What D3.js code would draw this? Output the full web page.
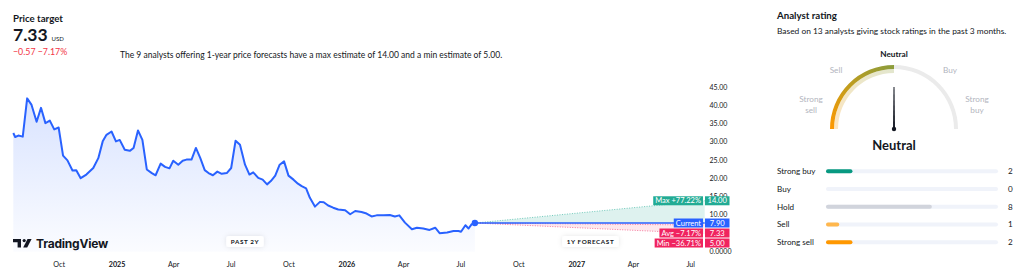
<!DOCTYPE html>
<html>
<head>
<meta charset="utf-8">
<script src="https://cdn.jsdelivr.net/npm/d3@7"></script>
<style>
  body { margin: 0; background: #fff; }
  svg { display: block; font-family: "Lato", "Liberation Sans", sans-serif; }
</style>
</head>
<body>
<div id="chart"></div>
<script>
// price history (past 2 years)
var priceDates = ["2024-07-21","2024-07-24","2024-07-29","2024-08-05","2024-08-12","2024-08-19","2024-08-27",
  "2024-09-03","2024-09-10","2024-09-17","2024-09-24","2024-10-01","2024-10-08","2024-10-15","2024-10-23",
  "2024-10-29","2024-11-05","2024-11-14","2024-11-25","2024-12-03","2024-12-10","2024-12-16","2024-12-24",
  "2024-12-31","2025-01-06","2025-01-14","2025-01-22","2025-01-28","2025-02-04","2025-02-11","2025-02-18",
  "2025-02-26","2025-03-04","2025-03-12","2025-03-19","2025-03-26","2025-04-01","2025-04-09","2025-04-16",
  "2025-04-22","2025-04-30","2025-05-07","2025-05-14","2025-05-21","2025-05-27","2025-06-03","2025-06-10",
  "2025-06-17","2025-06-25","2025-07-02","2025-07-09","2025-07-16","2025-07-24","2025-07-31","2025-08-06",
  "2025-08-14","2025-08-21","2025-08-28","2025-09-03","2025-09-10","2025-09-17","2025-09-24","2025-10-01",
  "2025-10-09","2025-10-16","2025-10-22","2025-10-29","2025-11-04","2025-11-12","2025-11-20","2025-11-26",
  "2025-12-03","2025-12-11","2025-12-19","2025-12-30","2026-01-07","2026-01-15","2026-01-25","2026-02-02",
  "2026-02-10","2026-02-18","2026-03-01","2026-03-11","2026-03-19","2026-03-26","2026-04-04","2026-04-15",
  "2026-04-23","2026-05-03","2026-05-13","2026-05-22","2026-05-29","2026-06-10","2026-06-20","2026-06-28",
  "2026-07-02","2026-07-09","2026-07-14","2026-07-19","2026-07-24"];
var priceValues = [32.6,31.5,31.9,31.6,42.1,40.3,35.7,39.5,35.3,36.0,33.6,34.1,26.4,25.1,22.3,
  22.4,20.2,21.2,23.0,25.7,30.3,32.1,33.0,30.3,30.7,28.0,27.7,28.5,33.3,30.7,22.6,
  21.6,21.0,24.2,23.3,22.9,25.0,23.9,25.0,25.3,25.3,28.5,25.7,22.4,21.6,21.0,22.0,
  21.4,21.6,23.0,30.5,29.4,23.9,21.2,21.8,20.3,19.8,18.5,19.4,20.9,23.9,24.8,20.9,
  19.8,18.7,18.0,17.4,14.8,12.4,13.7,13.6,12.7,12.1,11.6,11.4,10.3,11.2,10.9,10.5,
  9.7,10.0,10.0,10.1,9.7,10.0,8.0,6.2,6.6,6.4,6.0,6.6,5.1,5.3,5.7,5.7,
  5.5,7.3,6.4,7.6,7.9];

// 1 year targets
var currentPrice = 7.90;
var forecastEnd = "2027-07-24";
var targetNames = ["Max", "Avg", "Min"];
var targetValues = [14.00, 7.33, 5.00];
var targetPct = ["+77.22%", "\u22127.17%", "\u221236.71%"];
var analystCount = 9;

var yTicks = [0, 5, 10, 15, 20, 25, 30, 35, 40, 45];

// rating
var ratingNames = ["Strong buy", "Buy", "Hold", "Sell", "Strong sell"];
var ratingCounts = [2, 0, 8, 1, 2];
var ratingColors = ["#089981", "#089981", "#d1d4dc", "#ffb74d", "#ff9800"];
var gaugeNames = ["Strong sell", "Sell", "Neutral", "Buy", "Strong buy"];
var gaugeValue = 2;

var W = 1024, H = 277;
var parse = d3.timeParse("%Y-%m-%d");
var data = priceDates.map(function(d, i) { return { date: parse(d), value: priceValues[i] }; });
var last = data[data.length - 1];
var endDate = parse(forecastEnd);

var svg = d3.select("#chart").append("svg").attr("width", W).attr("height", H);
var defs = svg.append("defs");

var x = d3.scaleTime().domain([data[0].date, endDate]).range([13.3, 704.7]);
var y = d3.scaleLinear().domain([0, 45]).range([251.8, 87.8]);

// ---------- header ----------
svg.append("text").attr("x", 13).attr("y", 22).attr("font-size", 9.7).attr("font-weight", 700)
  .attr("fill", "#131722").text("Price target");
var big = svg.append("text").attr("x", 13).attr("y", 41).attr("fill", "#131722");
big.append("tspan").attr("font-size", 17.5).attr("font-weight", 700).text(targetValues[1].toFixed(2));
big.append("tspan").attr("font-size", 6).attr("dx", 4).text("USD");
svg.append("text").attr("x", 13).attr("y", 55).attr("font-size", 8.8).attr("fill", "#f23645")
  .text("\u2212" + (currentPrice - targetValues[1]).toFixed(2) + "  " + targetPct[1]);
svg.append("text").attr("x", 120).attr("y", 58).attr("font-size", 8.5).attr("fill", "#131722")
  .text("The " + analystCount + " analysts offering 1-year price forecasts have a max estimate of " +
    targetValues[0].toFixed(2) + " and a min estimate of " + targetValues[2].toFixed(2) + ".");

// ---------- area + line ----------
var grad = defs.append("linearGradient").attr("id", "areaGrad").attr("x1", 0).attr("x2", 0).attr("y1", 0).attr("y2", 1);
grad.append("stop").attr("offset", "0%").attr("stop-color", "#2962ff").attr("stop-opacity", 0.18);
grad.append("stop").attr("offset", "100%").attr("stop-color", "#2962ff").attr("stop-opacity", 0.02);

var area = d3.area().x(d => x(d.date)).y0(y(0)).y1(d => y(d.value));
var line = d3.line().x(d => x(d.date)).y(d => y(d.value));

svg.append("path").datum(data).attr("d", area).attr("fill", "url(#areaGrad)");
svg.append("path").datum(data).attr("d", line).attr("fill", "none")
  .attr("stroke", "#2962ff").attr("stroke-width", 2).attr("stroke-linejoin", "round");

// ---------- forecast fan ----------
var x0 = x(last.date), y0 = y(currentPrice), x1 = x(endDate);
svg.append("path")
  .attr("d", d3.line()([[x0, y0], [x1, y(targetValues[0])], [x1, y0]]))
  .attr("fill", "#22ab94").attr("fill-opacity", 0.15);
svg.append("path")
  .attr("d", d3.line()([[x0, y0], [x1, y0], [x1, y(targetValues[2])]]))
  .attr("fill", "#f23f6f").attr("fill-opacity", 0.12);
var fanColors = ["#22ab94", "#f0245f", "#f0245f"];
targetValues.forEach(function(v, i) {
  svg.append("line").attr("x1", x0).attr("y1", y0).attr("x2", x1).attr("y2", y(v))
    .attr("stroke", fanColors[i]).attr("stroke-opacity", 0.6).attr("stroke-width", 1)
    .attr("stroke-dasharray", "1,1.5");
});
svg.append("line").attr("x1", x0).attr("y1", y0).attr("x2", x1).attr("y2", y0)
  .attr("stroke", "#2962ff").attr("stroke-width", 1.5);
svg.append("circle").attr("cx", x0).attr("cy", y0).attr("r", 3.2).attr("fill", "#2962ff");

// ---------- y axis ----------
var yAxis = svg.append("g").attr("transform", "translate(709.5,-0.8)")
  .call(d3.axisRight(y).tickValues(yTicks).tickSize(0).tickPadding(0)
    .tickFormat(d => d === 0 ? "0.0000" : d3.format(".2f")(d)));
yAxis.select(".domain").remove();
yAxis.selectAll("text").attr("font-family", "Lato, sans-serif").attr("font-size", 7).attr("fill", "#131722");

// ---------- x axis ----------
var xTicks = d3.timeMonth.every(3).range(parse("2024-10-01"), parse("2027-07-02"));
var xAxis = svg.append("g").attr("transform", "translate(0,261.5)")
  .call(d3.axisBottom(x).tickValues(xTicks).tickSize(0).tickPadding(0)
    .tickFormat(d => d.getMonth() === 0 ? d3.timeFormat("%Y")(d) : d3.timeFormat("%b")(d)));
xAxis.select(".domain").remove();
xAxis.selectAll("text").attr("font-family", "Lato, sans-serif").attr("font-size", 7.2).attr("fill", "#131722")
  .attr("font-weight", d => d.getMonth() === 0 ? 700 : 400);

// ---------- target labels ----------
var labels = [
  { name: "Max " + targetPct[0], value: targetValues[0], color: "#22ab94" },
  { name: "Current", value: currentPrice, color: "#2962ff" },
  { name: "Avg " + targetPct[1], value: targetValues[1], color: "#f0245f" },
  { name: "Min " + targetPct[2], value: targetValues[2], color: "#f0245f" }
];
var boxH = 9, prevBottom = -Infinity;
labels.forEach(function(l) {
  var cy = Math.max(y(l.value), prevBottom + 1 + boxH / 2);
  prevBottom = cy + boxH / 2;
  var t = svg.append("text").attr("x", 701).attr("y", cy + 2.7).attr("text-anchor", "end")
    .attr("font-size", 7.5).attr("fill", "#fff").text(l.name);
  var w = t.node().getComputedTextLength();
  svg.insert("rect", function() { return t.node(); })
    .attr("x", 703 - w - 4).attr("y", cy - boxH / 2).attr("width", w + 4).attr("height", boxH)
    .attr("fill", l.color);
  svg.append("rect").attr("x", 705).attr("y", cy - boxH / 2).attr("width", 24.5).attr("height", boxH)
    .attr("fill", l.color);
  svg.append("text").attr("x", 717.2).attr("y", cy + 2.7).attr("text-anchor", "middle")
    .attr("font-size", 7.6).attr("fill", "#fff").text(l.value.toFixed(2));
});

// ---------- pills ----------
var shadow = defs.append("filter").attr("id", "sh").attr("x", "-50%").attr("y", "-100%").attr("width", "200%").attr("height", "300%");
shadow.append("feDropShadow").attr("dx", 0).attr("dy", 0).attr("stdDeviation", 2.5)
  .attr("flood-color", "#000").attr("flood-opacity", 0.1);
function pill(cx, label) {
  var g = svg.append("g");
  var t = g.append("text").attr("x", cx).attr("y", 243.8).attr("text-anchor", "middle")
    .attr("font-size", 6.3).attr("font-weight", 700).attr("letter-spacing", 0.6).attr("fill", "#131722").text(label);
  var w = t.node().getComputedTextLength() + 9;
  g.insert("rect", "text").attr("x", cx - w / 2).attr("y", 236).attr("width", w).attr("height", 11)
    .attr("rx", 2.5).attr("fill", "#fff").attr("filter", "url(#sh)");
}
pill(245, "PAST 2Y");
pill(590.5, "1Y FORECAST");

// ---------- TradingView logo ----------
var logo = svg.append("g").attr("transform", "translate(13,239)").attr("fill", "#131722");
logo.append("path").attr("d", "M0,0H8V8.5H4.6V3.2H0Z");
logo.append("circle").attr("cx", 11.2).attr("cy", 1.6).attr("r", 1.6);
logo.append("path").attr("d", "M14.5,0H18.6L14.2,8.5H10.2Z");
logo.append("text").attr("x", 23).attr("y", 8.6).attr("font-size", 12).attr("font-weight", 700)
  .attr("font-family", "Inter, sans-serif").attr("letter-spacing", -0.2).text("TradingView");

// ---------- analyst rating panel ----------
svg.append("text").attr("x", 777).attr("y", 19).attr("font-size", 9.7).attr("font-weight", 700)
  .attr("fill", "#131722").text("Analyst rating");
svg.append("text").attr("x", 777).attr("y", 33.5).attr("font-size", 8.4).attr("fill", "#131722")
  .text("Based on 13 analysts giving stock ratings in the past 3 months.");

var gcx = 894, gcy = 129;
var gauge = svg.append("g").attr("transform", "translate(" + gcx + "," + gcy + ")");
var angle = d3.scaleLinear().domain([0, 4]).range([-Math.PI / 2, Math.PI / 2]);
var gg = defs.append("linearGradient").attr("id", "gaugeGrad").attr("gradientUnits", "userSpaceOnUse")
  .attr("x1", -64).attr("y1", 0).attr("x2", 0).attr("y2", -64);
gg.append("stop").attr("offset", "0%").attr("stop-color", "#ff9800");
gg.append("stop").attr("offset", "45%").attr("stop-color", "#c49d1c");
gg.append("stop").attr("offset", "100%").attr("stop-color", "#8a9c3c");

gauge.append("path").attr("d", d3.arc()({ innerRadius: 60, outerRadius: 64, startAngle: angle(gaugeValue), endAngle: angle(4) }))
  .attr("fill", "#ebebeb");
gauge.append("path").attr("d", d3.arc()({ innerRadius: 60, outerRadius: 64, startAngle: angle(0), endAngle: angle(gaugeValue) }))
  .attr("fill", "url(#gaugeGrad)");
gauge.append("path").attr("d", d3.arc()({ innerRadius: 56, outerRadius: 60, startAngle: angle(0), endAngle: angle(gaugeValue) }))
  .attr("fill", "url(#gaugeGrad)").attr("fill-opacity", 0.25);

// gauge labels
var gaugeLabelPos = [[-83, -25], [-58, -56], [0, -72], [56, -56], [83, -25]];
gaugeNames.forEach(function(n, i) {
  var words = n.split(" ");
  var t = gauge.append("text").attr("text-anchor", "middle").attr("font-size", 8.2)
    .attr("fill", i === gaugeValue ? "#131722" : "#b2b5be").attr("font-weight", i === gaugeValue ? 700 : 400);
  words.forEach(function(w, j) {
    t.append("tspan").attr("x", gaugeLabelPos[i][0]).attr("y", gaugeLabelPos[i][1] + j * 10.5 + (words.length > 1 ? -2 : 0)).text(w);
  });
});

// needle
var a = angle(gaugeValue);
var needle = gauge.append("g").attr("transform", "rotate(" + (a * 180 / Math.PI) + ")");
needle.append("path").attr("d", "M-1,0L-0.5,-42L0.5,-42L1,0Z").attr("fill", "#131722");
needle.append("circle").attr("r", 2.2).attr("fill", "#131722");
svg.append("text").attr("x", gcx).attr("y", 149.5).attr("text-anchor", "middle").attr("font-size", 13)
  .attr("font-weight", 700).attr("fill", "#131722").text(gaugeNames[gaugeValue]);

// bars
var bx = d3.scaleLinear().domain([0, 13]).range([826, 998]);
var by = d3.scaleBand().domain(ratingNames).range([162.5, 251]);
var rows = svg.append("g").selectAll("g").data(ratingNames).enter().append("g")
  .attr("transform", d => "translate(0," + (by(d) + by.bandwidth() / 2) + ")");
rows.append("text").attr("x", 777).attr("y", 2.9).attr("font-size", 8.1).attr("fill", "#131722").text(d => d);
rows.append("rect").attr("x", bx(0)).attr("y", -2).attr("width", bx(13) - bx(0)).attr("height", 4)
  .attr("rx", 2).attr("fill", "#f0f3fa");
rows.append("rect").attr("x", bx(0)).attr("y", -2).attr("width", (d, i) => bx(ratingCounts[i]) - bx(0))
  .attr("height", 4).attr("rx", 2).attr("fill", (d, i) => ratingColors[i]);
rows.append("text").attr("x", 1008).attr("y", 2.9).attr("font-size", 8.1).attr("fill", "#131722")
  .text((d, i) => ratingCounts[i]);
</script>
</body>
</html>
